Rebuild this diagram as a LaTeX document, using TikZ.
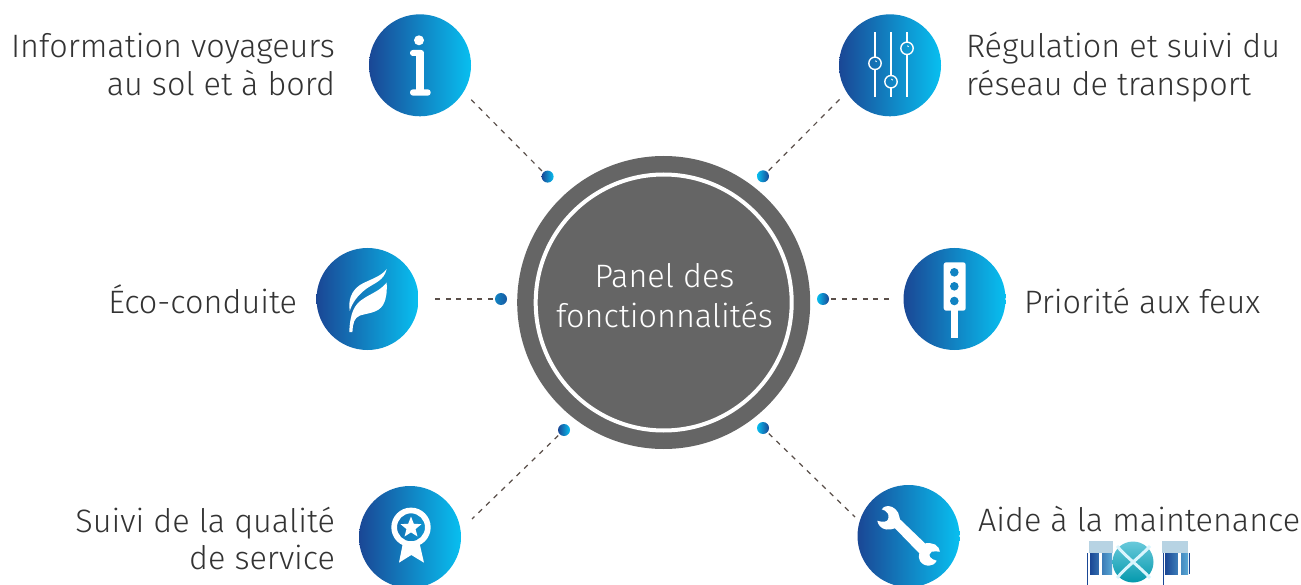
\documentclass[tikz,border=0pt]{standalone}
\usepackage{fontspec}
\setmainfont{Fira Sans Light}
\usetikzlibrary{shapes.geometric}
\definecolor{gd}{HTML}{1A4795}
\definecolor{gl}{HTML}{08BFF0}
\definecolor{gm}{HTML}{1183C2}
\definecolor{disc}{HTML}{656565}
\definecolor{ink}{HTML}{333333}
\definecolor{dashc}{HTML}{5A4F4A}
\tikzset{
 x=1pt,y=-1pt,
 lab/.style={font=\fontsize{32.4}{38}\selectfont,text=ink,inner sep=0pt,outer sep=0pt},
 iconbg/.style={circle,minimum size=102pt,inner sep=0pt,outer sep=0pt,left color=gd,right color=gl,shading=axis},
 dotr/.style={circle,minimum size=12pt,inner sep=0pt,outer sep=0pt,left color=gd,right color=gl},
 dotl/.style={circle,minimum size=12pt,inner sep=0pt,outer sep=0pt,left color=gl,right color=gd},
 conn/.style={draw=dashc,line width=1.2pt,dash pattern=on 5pt off 5.6pt,shorten <=2pt},
 wh/.style={fill=white,draw=none},
 whl/.style={draw=white,fill=none},
}
\begin{document}
\begin{tikzpicture}
\useasboundingbox (0,0) rectangle (1301,585);
% centre
\node[circle,fill=disc,minimum size=293pt,inner sep=0pt] (hub) at (663.7,302.5) {};
\node[circle,draw=white,line width=4pt,minimum size=256pt,inner sep=0pt] (ring) at (hub) {};
\node[lab,text=white,anchor=base] (p1) at (664.5,288) {Panel des};
\node[lab,text=white,anchor=base] (p2) at (664.5,327) {fonctionnalités};
% icon discs
\node[iconbg] (c1) at (420,65.3) {};
\node[iconbg] (c2) at (890,65.3) {};
\node[iconbg] (c3) at (367.5,299) {};
\node[iconbg] (c4) at (954.5,299) {};
\node[iconbg] (c5) at (410,537) {};
\node[iconbg] (c6) at (908.5,536) {};
% dots
\node[dotr] (d1) at (547.6,176.6) {};
\node[dotl] (d2) at (763,176.3) {};
\node[circle,minimum size=12pt,inner sep=0pt,outer sep=0pt,left color=gm,right color=gd!70!gm] (d3) at (501,299) {};
\node[dotl] (d4) at (823,299) {};
\node[dotr] (d5) at (564,430) {};
\node[dotl] (d6) at (763,428) {};
% free ends
\coordinate (e1) at (471,99.5);
\coordinate (e2) at (840,99);
\coordinate (e3) at (434,299);
\coordinate (e4) at (892,299);
\coordinate (e5) at (472,519);
\coordinate (e6) at (855,517);
\foreach \i in {1,...,6} \draw[conn] (d\i) -- (e\i);
% labels
\node[lab,anchor=base east] (t1a) at (335,58) {Information voyageurs};
\node[lab,anchor=base east] (t1b) at (335,96) {au sol et à bord};
\node[lab,anchor=base west] (t2a) at (966,58) {Régulation et suivi du};
\node[lab,anchor=base west] (t2b) at (966,96) {réseau de transport};
\node[lab,anchor=base east] (t3) at (297,313) {Éco-conduite};
\node[lab,anchor=base west] (t4) at (1024,313) {Priorité aux feux};
\node[lab,anchor=base east] (t5a) at (335,532) {Suivi de la qualité};
\node[lab,anchor=base east] (t5b) at (335,569) {de service};
\node[lab,anchor=base west] (t6) at (978,531) {Aide à la maintenance};
% info icon
\fill[wh] (419,40.3) circle[radius=5];
\fill[wh,rounded corners=2.8pt] (410,50) rectangle (424,56);
\fill[wh] (416,52) rectangle (424,92);
\fill[wh,rounded corners=3pt] (410,89.3) rectangle (430.7,95.7);
% sliders icon
\begin{scope}[whl,line width=1.4pt]
\draw (875,32.5) -- (875,57);
\draw (875,69.5) -- (875,96.7);
\draw (891,32.5) -- (891,75.5);
\draw (891,88) -- (891,96.7);
\draw (907,32.5) -- (907,42);
\draw (907,54.5) -- (907,96.7);
\draw (875,63.3) circle[radius=6.2];
\draw (891,81.7) circle[radius=6.2];
\draw (907,48.3) circle[radius=6.2];
\draw[line width=.9pt] (875.4,60.6) -- (876.6,61.8);
\draw[line width=.9pt] (891.4,79) -- (892.6,80.2);
\draw[line width=.9pt] (907.4,45.6) -- (908.6,46.8);
\end{scope}
% leaf icon
\fill[wh] (386.7,269) .. controls (381,277) and (368,280) .. (360,285) .. controls (351,291) and (348,301) .. (349.8,311) .. controls (352,303) and (358,295) .. (366,289) .. controls (374,283) and (384,281) .. (386.7,269) -- cycle;
\fill[wh] (386.7,282.5) .. controls (380,291) and (370,294) .. (363,299) .. controls (355,304) and (350,312) .. (349.3,332) -- (352.4,332) .. controls (353,323) and (354,318) .. (360,315.5) .. controls (368,313) and (378,313) .. (383,305) .. controls (387,298) and (387,290) .. (386.7,282.5) -- cycle;
% traffic light icon
\fill[wh,rounded corners=2.5pt] (943.7,262.3) rectangle (965.7,310.7);
\fill[wh] (951.3,309) rectangle (958,338.3);
\fill[gm] (954.3,272.3) circle[radius=4.3];
\fill[gm] (954.3,286.3) circle[radius=4.3];
\fill[gm] (954.3,301) circle[radius=4.3];
% medal icon
\fill[wh,even odd rule] (411,527.3) circle[radius=19.7] (411,527.3) circle[radius=14];
\fill[wh] (403.3,541) -- (399,562.7) -- (411.3,555) -- (424,562.7) -- (419,541) -- cycle;
\node[star,star points=5,star point ratio=2.3,minimum size=22pt,inner sep=0pt,fill=white] (st) at (411,527.6) {};
% wrench icon
\fill[wh] (881.7,509.3) .. controls (884,506.5) and (886,506) .. (888.3,506)
 .. controls (893,506) and (899,511) .. (899.3,516.7) -- (900,519.3) -- (925,543.3)
 .. controls (929,543) and (932,543) .. (935,544.5) .. controls (938,546) and (939.5,549) .. (940,551.7)
 .. controls (937,551.5) and (934,551) .. (931.7,551.7) .. controls (929,553) and (929,556) .. (930,557)
 .. controls (931.5,559) and (934,560) .. (936.7,560.7) .. controls (935,564) and (932,565.7) .. (929,565.7)
 .. controls (925,565.7) and (922,564) .. (920,561) .. controls (918.5,558) and (918.5,556) .. (919.3,553.3)
 -- (895,528.3) .. controls (892,529.5) and (889,529.8) .. (886,529.5)
 .. controls (881,528.5) and (878,525) .. (877.3,520.7) .. controls (880,521.5) and (884,522.5) .. (886.7,521)
 .. controls (889,519.5) and (889,515) .. (887.5,513) .. controls (886,511) and (884,510) .. (881.7,509.3) -- cycle;
% logo
\begin{scope}
\fill[gray!30!gm!35!white] (1089,541) rectangle (1113,553);
\fill[gray!30!gm!35!white] (1162,541) rectangle (1188,553);
\shade[left color=gd,right color=gm!70] (1090,553) rectangle (1112,574);
\shade[left color=gd,right color=gm!70] (1165,553) rectangle (1188,574);
\fill[white] (1099,553) rectangle (1102,585);
\fill[white] (1178,553) rectangle (1181,585);
\fill[gd] (1087,553) rectangle (1088,585);
\fill[gd] (1163,553) rectangle (1164,585);
\fill[gd] (1189,553) rectangle (1190,574);
\shade[top color=teal!40!gl!60,bottom color=teal!60!gl] (1133,562) circle[radius=20.5];
\draw[white!85!gl,line width=3pt] (1117,546) .. controls (1125,556) and (1141,568) .. (1150,578);
\draw[white!85!gl,line width=3pt] (1117,578) .. controls (1125,568) and (1141,556) .. (1150,546);
\end{scope}
\end{tikzpicture}
\end{document}
